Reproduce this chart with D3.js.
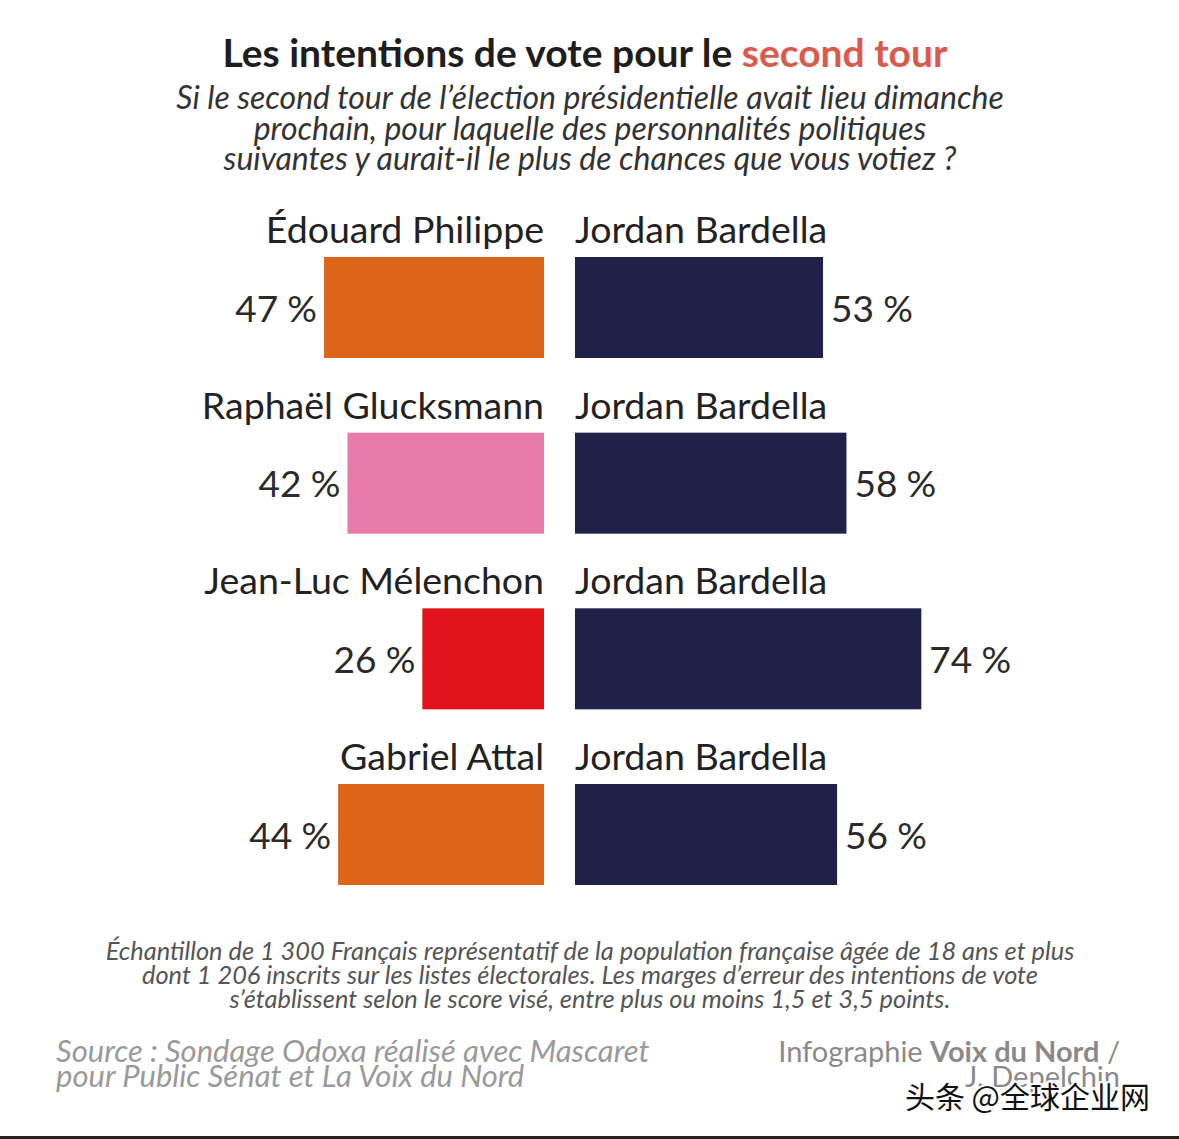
<!DOCTYPE html>
<html>
<head>
<meta charset="utf-8">
<script src="https://cdn.jsdelivr.net/npm/d3@7"></script>
<style>
  body { margin: 0; background: #fff; }
  svg { display: block; }
  text { font-family: Lato, "Noto Sans", sans-serif; }
</style>
</head>
<body>
<svg width="1179" height="1139"></svg>
<script>
// données du sondage
var challengers = ['Édouard Philippe', 'Raphaël Glucksmann', 'Jean-Luc Mélenchon', 'Gabriel Attal'];
var opponent = 'Jordan Bardella';
var challengerScores = [47, 42, 26, 44];
var opponentScores = [53, 58, 74, 56];
var challengerColors = ['#dc6517', '#e87ba9', '#e1131a', '#dc6517'];
var opponentColor = '#1f2149';

var subtitleLines = [
  'Si le second tour de l\u2019élection présidentielle avait lieu dimanche',
  'prochain, pour laquelle des personnalités politiques',
  'suivantes y aurait-il le plus de chances que vous votiez ?'
];
var noteLines = [
  'Échantillon de 1\u202f300 Français représentatif de la population française âgée de 18 ans et plus',
  'dont 1\u202f206 inscrits sur les listes électorales. Les marges d\u2019erreur des intentions de vote',
  's\u2019établissent selon le score visé, entre plus ou moins 1,5 et 3,5 points.'
];
var sourceLines = [
  'Source\u202f: Sondage Odoxa réalisé avec Mascaret',
  'pour Public Sénat et La Voix du Nord'
];

var svg = d3.select('svg');
var midLeft = 544, midRight = 575;
var barH = 101;

var x = d3.scaleLinear().domain([0, 100]).range([0, 468]);
var y = d3.scaleLinear().domain([0, challengers.length - 1]).range([257, 784]);

// titre
var title = svg.append('text')
  .attr('x', 585).attr('y', 67)
  .attr('text-anchor', 'middle')
  .style('font-size', '39px').style('font-weight', 'bold')
  .attr('fill', '#1e1e1e');
title.append('tspan').text('Les intentions de vote pour le ');
title.append('tspan').attr('fill', '#dc5a4c').text('second tour');

svg.selectAll('.sub')
  .data(subtitleLines)
  .enter().append('text')
  .attr('class', 'sub')
  .attr('x', 590)
  .attr('y', function(d, i) { return 109 + i * 30.5; })
  .attr('text-anchor', 'middle')
  .style('font-size', '32px').style('font-style', 'italic')
  .attr('fill', '#333')
  .text(function(d) { return d; });

var rows = svg.selectAll('.row')
  .data(challengers)
  .enter().append('g')
  .attr('class', 'row')
  .attr('transform', function(d, i) { return 'translate(0,' + y(i) + ')'; });

// noms
rows.append('text')
  .attr('x', midLeft).attr('y', -14)
  .attr('text-anchor', 'end')
  .style('font-size', '37.5px').attr('fill', '#222')
  .text(function(d) { return d; });
rows.append('text')
  .attr('x', midRight).attr('y', -14)
  .style('font-size', '37.5px').attr('fill', '#222')
  .text(opponent);

// barres
rows.append('rect')
  .attr('x', function(d, i) { return midLeft - x(challengerScores[i]); })
  .attr('y', 0)
  .attr('width', function(d, i) { return x(challengerScores[i]); })
  .attr('height', barH)
  .attr('fill', function(d, i) { return challengerColors[i]; });
rows.append('rect')
  .attr('x', midRight)
  .attr('y', 0)
  .attr('width', function(d, i) { return x(opponentScores[i]); })
  .attr('height', barH)
  .attr('fill', opponentColor);

// valeurs
rows.append('text')
  .attr('x', function(d, i) { return midLeft - x(challengerScores[i]) - 7; })
  .attr('y', barH / 2 + 14)
  .attr('text-anchor', 'end')
  .style('font-size', '37px').attr('fill', '#2a2a2a')
  .text(function(d, i) { return challengerScores[i] + '\u202f%'; });
rows.append('text')
  .attr('x', function(d, i) { return midRight + x(opponentScores[i]) + 8; })
  .attr('y', barH / 2 + 14)
  .style('font-size', '37px').attr('fill', '#2a2a2a')
  .text(function(d, i) { return opponentScores[i] + '\u202f%'; });

// note méthodologique
svg.selectAll('.note')
  .data(noteLines)
  .enter().append('text')
  .attr('class', 'note')
  .attr('x', 590)
  .attr('y', function(d, i) { return 960 + i * 24; })
  .attr('text-anchor', 'middle')
  .style('font-size', '25.4px').style('font-style', 'italic')
  .attr('fill', '#555')
  .text(function(d) { return d; });

svg.selectAll('.source')
  .data(sourceLines)
  .enter().append('text')
  .attr('class', 'source')
  .attr('x', 56)
  .attr('y', function(d, i) { return 1062 + i * 25; })
  .style('font-size', '31px').style('font-style', 'italic')
  .attr('fill', '#9a9a9a')
  .text(function(d) { return d; });

var credit = svg.append('text')
  .attr('x', 1120).attr('y', 1062)
  .attr('text-anchor', 'end')
  .style('font-size', '29px').attr('fill', '#8a8a8a');
credit.append('tspan').text('Infographie ');
credit.append('tspan').style('font-weight', 'bold').text('Voix du Nord');
credit.append('tspan').text(' /');
svg.append('text')
  .attr('x', 1120).attr('y', 1087)
  .attr('text-anchor', 'end')
  .style('font-size', '29px').attr('fill', '#8a8a8a')
  .text('J. Depelchin');

// filigrane
svg.append('text')
  .attr('x', 1150).attr('y', 1108)
  .attr('text-anchor', 'end')
  .style('font-family', '"Noto Sans CJK SC", sans-serif')
  .style('font-size', '30px')
  .attr('fill', '#111')
  .attr('stroke', '#fff').attr('stroke-width', 4)
  .style('paint-order', 'stroke')
  .text('头条 @全球企业网');

svg.append('rect')
  .attr('x', 0).attr('y', 1136).attr('width', 1179).attr('height', 3)
  .attr('fill', '#222');
</script>
</body>
</html>
